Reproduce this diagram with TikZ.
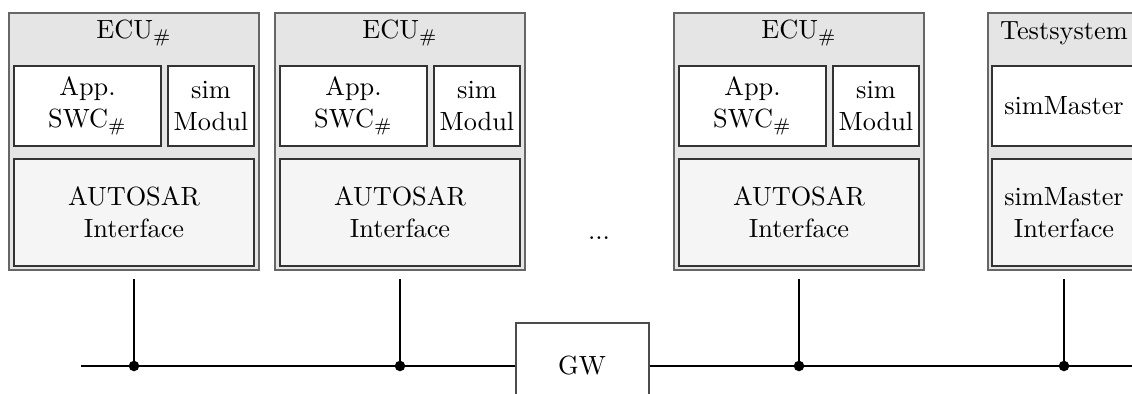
\documentclass[tikz,border=0pt]{standalone}
\usetikzlibrary{fit}
\begin{document}
\begin{tikzpicture}[x=0.38pt,y=-0.38pt,
  unitbox/.style={draw=black!60,line width=0.6pt,fill=gray!20,inner sep=0pt},
  swbox/.style={draw=black!80,line width=0.6pt,fill=white,inner sep=0pt},
  ifbox/.style={draw=black!80,line width=0.6pt,fill=gray!8,inner sep=0pt},
  lbl/.style={align=center,inner sep=0pt,font=\normalsize},
  busline/.style={line width=0.9pt,black},
  tap/.style={circle,fill=black,inner sep=0pt,minimum size=4pt}]
\useasboundingbox (0,0) rectangle (1132,394);
\clip (0,0) rectangle (1132,394);

% three ECUs, each with application SWC, sim module and AUTOSAR interface
\foreach \i/\x in {1/9,2/275,3/674}{
  \node[unitbox,fit={(\x,13)(\x+250,270)}] (ecu\i) {};
  \node[lbl] (ecut\i) at (\x+125,33) {ECU$_\#$};
  \node[swbox,fit={(\x+5,66)(\x+152,146)}] (app\i) {};
  \node[lbl] at (app\i.center) {App.\\SWC$_\#$};
  \node[swbox,fit={(\x+159,66)(\x+245,146)}] (sim\i) {};
  \node[lbl] at (sim\i.center) {sim\\Modul};
  \node[ifbox,fit={(\x+5,159)(\x+245,266)}] (if\i) {};
  \node[lbl] at (if\i.center) {AUTOSAR\\Interface};
  \coordinate (top\i) at (\x+125,279);
}

% test system
\node[unitbox,fit={(988,13)(1140,270)}] (ts) {};
\node[lbl] (tst) at (1064,33) {Testsystem};
\node[swbox,fit={(992,66)(1136,146)}] (sm) {};
\node[lbl] at (sm.center) {simMaster};
\node[ifbox,fit={(992,159)(1136,266)}] (smif) {};
\node[lbl] at (smif.center) {simMaster\\Interface};
\coordinate (top4) at (1064,279);

\node[anchor=base,inner sep=0pt] (dots) at (599,239.5) {...};

% gateway on the bus
\node[draw=black!70,line width=0.6pt,fill=white,inner sep=0pt,fit={(516,323)(649,420)}] (gw) {};
\node[lbl] at (582,366) {GW};

\coordinate (busL) at (81,366);
\coordinate (busR) at (1140,366);
\coordinate (gwL) at (gw.west |- busL);
\coordinate (gwR) at (gw.east |- busL);
\draw[busline] (busL) -- (gwL);
\draw[busline] (gwR) -- (busR);

\foreach \i in {1,2,3,4}{
  \coordinate (bus\i) at (top\i |- busL);
  \draw[busline] (top\i) -- (bus\i);
  \node[tap] at (bus\i) {};
}
\end{tikzpicture}
\end{document}
